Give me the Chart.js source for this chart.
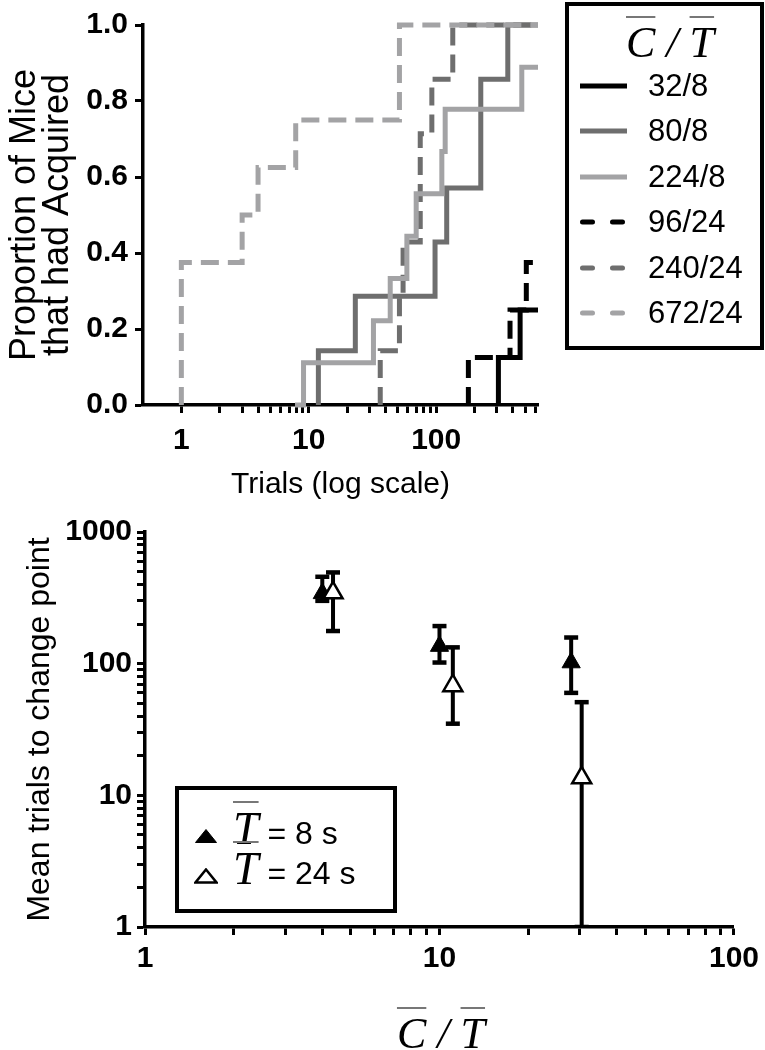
<!DOCTYPE html>
<html>
<head>
<meta charset="utf-8">
<script src="https://cdn.jsdelivr.net/npm/chart.js@4.4.1/dist/chart.umd.min.js"></script>
<style>
  body { margin: 0; background: #fff; }
  #page { position: relative; width: 765px; height: 1050px; overflow: hidden;
          font-family: 'Liberation Sans', Arial, sans-serif; color: #000; }
  canvas { position: absolute; left: 0; }
  .ov { text-decoration: overline; text-decoration-thickness: 1.5px; text-decoration-color: #777; }
  .serif { font-family: 'Liberation Serif', 'Times New Roman', serif; font-style: italic; }
  .box { position: absolute; border: 4px solid #000; box-sizing: border-box; }
</style>
</head>
<body>
<div id="page">
  <canvas id="acqChart" width="765" height="505" style="top:0"></canvas>
  <canvas id="cpChart" width="765" height="545" style="top:505px"></canvas>

  <div class="box" id="acqLegend" style="left:565px;top:2px;width:199px;height:348px">
    <div class="serif" style="position:absolute;left:57px;top:15px;font-size:44px;line-height:1;white-space:pre"><span class="ov">C</span> / <span class="ov">T</span></div>
  </div>

  <div class="box" id="cpLegend" style="left:175px;top:786px;width:222px;height:127px"></div>

  <div class="serif" style="position:absolute;left:141px;top:1012px;width:600px;text-align:center;font-size:44px;line-height:1;white-space:pre"><span class="ov">C</span> / <span class="ov">T</span></div>
</div>

<script>
// ---- top panel: cumulative proportion of mice that had acquired ----
const groupLabels = ['32/8', '80/8', '224/8', '96/24', '240/24', '672/24'];

// trial at each step, proportion after the step
const trials_32_8 = [308, 308, 456, 630];
const prop_32_8   = [0, 0.125, 0.25, 0.25];

const trials_80_8 = [11.9, 11.9, 23.2, 98, 121, 224, 365, 630];
const prop_80_8   = [0, 0.143, 0.286, 0.429, 0.571, 0.857, 1, 1];

const trials_224_8 = [7.8, 9.1, 32.2, 43.6, 58.9, 69.7, 110.8, 117.7, 470, 630];
const prop_224_8   = [0, 0.111, 0.222, 0.333, 0.444, 0.556, 0.667, 0.778, 0.889, 0.889];

const trials_96_24 = [179, 179, 380, 510, 630];
const prop_96_24   = [0, 0.125, 0.25, 0.375, 0.375];

const trials_240_24 = [36.4, 36.4, 51.5, 55, 75, 92.5, 135, 630];
const prop_240_24   = [0, 0.143, 0.286, 0.429, 0.714, 0.857, 1, 1];

const trials_672_24 = [1, 1, 3, 4, 7.9, 51.5, 630];
const prop_672_24   = [0, 0.375, 0.5, 0.625, 0.75, 1, 1];

const trialTicks = [1, 2, 3, 4, 5, 6, 7, 8, 9, 10, 20, 30, 40, 50, 60, 70, 80, 90,
                    100, 200, 300, 400, 500, 600];
const trialTickLabels = [1, 10, 100];
const propTickLabels = [0, 0.2, 0.4, 0.6, 0.8, 1.0];

// ---- bottom panel: mean trials to change point ----
const ratioT8 = [4, 10, 28];
const meanT8  = [342, 136, 102];
const upperT8 = [457, 193, 158];
const lowerT8 = [300, 102, 60];

const ratioT24 = [4.35, 11.1, 30.4];
const meanT24  = [345, 68, 13.6];
const upperT24 = [493, 133, 51];
const lowerT24 = [177, 35, 1];

const ratioTicks = [1, 2, 3, 4, 5, 6, 7, 8, 9, 10, 20, 30, 40, 50, 60, 70, 80, 90, 100];
const ratioTickLabels = [1, 10, 100];
const countTicks = [1, 2, 3, 4, 5, 6, 7, 8, 9, 10, 20, 30, 40, 50, 60, 70, 80, 90,
                    100, 200, 300, 400, 500, 600, 700, 800, 900, 1000];
const countTickLabels = [1, 10, 100, 1000];

// styles
const BLACK = '#000', DARK = '#6e6e6e', LIGHT = '#a3a3a5';
const groupColors = [BLACK, DARK, LIGHT, BLACK, DARK, LIGHT];
const groupDashed = [false, false, false, true, true, true];
const groupOrder  = [0, 5, 3, 1, 4, 2];

Chart.defaults.font.family = "'Liberation Sans', Arial, sans-serif";
Chart.defaults.color = '#000';

const groupTrials = [trials_32_8, trials_80_8, trials_224_8, trials_96_24, trials_240_24, trials_672_24];
const groupProps  = [prop_32_8, prop_80_8, prop_224_8, prop_96_24, prop_240_24, prop_672_24];

function axisStyle() {
    return {
        grid: { display: true, drawOnChartArea: false, drawTicks: true, tickLength: 8,
                tickWidth: 3, tickColor: '#000', color: '#000' },
        border: { display: true, color: '#000', width: 3.5 }
    };
}

const acqChart = new Chart(document.getElementById('acqChart'), {
    type: 'line',
    data: {
        datasets: groupLabels.map((label, i) => ({
            label: label,
            data: groupTrials[i].map((t, j) => ({ x: t, y: groupProps[i][j] })),
            stepped: true,
            borderColor: groupColors[i],
            borderWidth: 5,
            borderDash: groupDashed[i] ? [18, 9] : [],
            borderCapStyle: 'butt',
            pointRadius: 0,
            fill: false,
            clip: 6,
            order: groupOrder[i]
        }))
    },
    options: {
        responsive: false,
        animation: false,
        layout: { padding: { left: 0, top: 14, right: 227, bottom: 0 } },
        plugins: { legend: { display: false }, tooltip: { enabled: false } },
        scales: {
            x: {
                type: 'logarithmic', min: 0.5, max: 630,
                ...axisStyle(),
                afterBuildTicks: s => { s.ticks = trialTicks.map(v => ({ value: v })); },
                afterFit: s => { s.height = 100; },
                ticks: {
                    autoSkip: false, maxRotation: 0, padding: 10,
                    font: { size: 30, weight: 'bold' },
                    callback: v => trialTickLabels.includes(v) ? String(v) : ''
                },
                title: { display: true, text: 'Trials (log scale)', font: { size: 30 },
                         padding: { top: 0, bottom: 2 } }
            },
            y: {
                min: 0, max: 1,
                ...axisStyle(),
                afterBuildTicks: s => { s.ticks = propTickLabels.map(v => ({ value: v })); },
                afterFit: s => { s.width = 143; },
                ticks: { padding: 7, font: { size: 30, weight: 'bold' }, callback: v => v.toFixed(1) },
                title: { display: true, text: ['Proportion of Mice', 'that had Acquired'],
                         font: { size: 36, lineHeight: 0.9 }, padding: { top: 9 } }
            }
        }
    }
});

// error bars as two-point segments with flat caps, gaps between them
function errorBarPoints(xs, lows, highs) {
    const pts = [];
    xs.forEach((x, i) => {
        pts.push({ x: x, y: lows[i] }, { x: x, y: highs[i] }, { x: x, y: null });
    });
    return pts;
}

const cpChart = new Chart(document.getElementById('cpChart'), {
    type: 'scatter',
    data: {
        datasets: [
            {
                label: 'T = 24 s',
                data: ratioT24.map((x, i) => ({ x: x, y: meanT24[i] })),
                pointStyle: 'triangle', pointRadius: 11,
                pointBackgroundColor: '#fff', pointBorderColor: '#000', pointBorderWidth: 2.5,
                order: 0
            },
            {
                data: errorBarPoints(ratioT24, lowerT24, upperT24),
                showLine: true, spanGaps: false, borderColor: '#000', borderWidth: 4,
                pointStyle: 'line', pointRadius: 7, pointBorderWidth: 4.5, pointBorderColor: '#000',
                order: 1
            },
            {
                label: 'T = 8 s',
                data: ratioT8.map((x, i) => ({ x: x, y: meanT8[i] })),
                pointStyle: 'triangle', pointRadius: 10.5,
                pointBackgroundColor: '#000', pointBorderColor: '#000', pointBorderWidth: 1,
                order: 2
            },
            {
                data: errorBarPoints(ratioT8, lowerT8, upperT8),
                showLine: true, spanGaps: false, borderColor: '#000', borderWidth: 4,
                pointStyle: 'line', pointRadius: 7, pointBorderWidth: 4.5, pointBorderColor: '#000',
                order: 3
            }
        ]
    },
    options: {
        responsive: false,
        animation: false,
        layout: { padding: { left: 0, top: 27, right: 28, bottom: 0 } },
        plugins: { legend: { display: false }, tooltip: { enabled: false } },
        scales: {
            x: {
                type: 'logarithmic', min: 1, max: 100,
                ...axisStyle(),
                afterBuildTicks: s => { s.ticks = ratioTicks.map(v => ({ value: v })); },
                afterFit: s => { s.height = 123; },
                ticks: {
                    autoSkip: false, maxRotation: 0, padding: 6,
                    font: { size: 30, weight: 'bold' },
                    callback: v => ratioTickLabels.includes(v) ? String(v) : ''
                }
            },
            y: {
                type: 'logarithmic', min: 1, max: 1000,
                ...axisStyle(),
                afterBuildTicks: s => { s.ticks = countTicks.map(v => ({ value: v })); },
                afterFit: s => { s.width = 145; },
                ticks: {
                    autoSkip: false, padding: 5,
                    font: { size: 30, weight: 'bold' },
                    callback: v => countTickLabels.includes(v) ? String(v) : ''
                },
                title: { display: true, text: 'Mean trials to change point',
                         font: { size: 32 }, padding: { top: 21 } }
            }
        }
    }
});

// ---- legends (HTML, text kept as text) ----
const acqLegend = document.getElementById('acqLegend');
groupLabels.forEach((label, i) => {
    const row = document.createElement('div');
    row.style.cssText = 'position:absolute;left:11px;top:' + (60 + i * 45.4) +
        'px;height:40px;display:flex;align-items:center;font-size:31px;white-space:nowrap';
    const dash = groupDashed[i]
        ? '<line x1="2.5" y1="5" x2="47" y2="5" stroke="' + groupColors[i] + '" stroke-width="5" stroke-linecap="round" stroke-dasharray="10 20"/>'
        : '<line x1="0" y1="5" x2="47" y2="5" stroke="' + groupColors[i] + '" stroke-width="5"/>';
    row.innerHTML = '<svg width="47" height="10" style="flex:none">' + dash + '</svg>' +
        '<span style="margin-left:21px">' + label + '</span>';
    acqLegend.appendChild(row);
});

const cpLegend = document.getElementById('cpLegend');
const cpLegendRows = [
    { fill: '#000', text: ' = 8 s' },
    { fill: '#fff', text: ' = 24 s' }
];
cpLegendRows.forEach((r, i) => {
    const row = document.createElement('div');
    row.style.cssText = 'position:absolute;left:15px;top:' + (15.5 + i * 40) +
        'px;display:flex;align-items:baseline;white-space:pre';
    row.innerHTML =
        '<svg width="24" height="16" style="flex:none"><polygon points="12,1.5 22.5,14.5 1.5,14.5" fill="' + r.fill +
        '" stroke="#000" stroke-width="' + (r.fill === '#000' ? 1 : 2.5) + '" stroke-linejoin="miter"/></svg>' +
        '<span class="serif ov" style="font-size:46px;line-height:1;margin-left:15px">T</span>' +
        '<span style="font-size:32px;line-height:1">' + r.text + '</span>';
    cpLegend.appendChild(row);
});
</script>
</body>
</html>
